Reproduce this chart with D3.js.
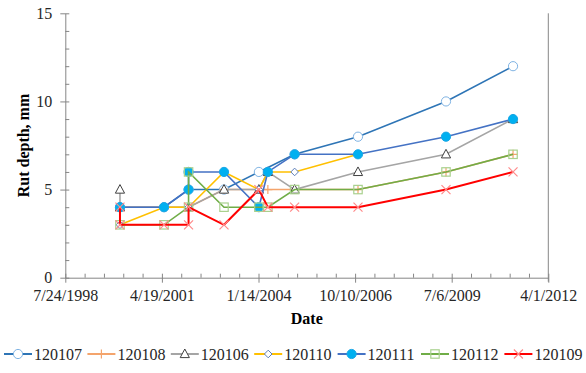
<!DOCTYPE html>
<html>
<head>
<meta charset="utf-8">
<script src="https://cdn.jsdelivr.net/npm/d3@7"></script>
<style>
  body { margin: 0; background: #fff; }
  .axis path, .axis line { stroke: #868686; }
</style>
</head>
<body>
<script>
// survey dates
var surveyDates = ["2000-02-10","2001-05-11","2002-01-20","2003-01-22","2004-01-18",
                   "2004-04-20","2005-01-22","2006-11-09","2009-05-08","2011-04-02"];

// [date index, rut depth mm]
var rut120107 = [[0,4],[1,4],[2,5],[3,5],[4,6],[6,7],[7,8],[8,10],[9,12]];
var rut120108 = [[0,4],[1,4],[2,4],[3,5],[4,5],[5,5],[6,5],[7,5],[8,6],[9,7]];
var rut120106 = [[0,5],[0,4],[2,4],[3,5],[4,5],[5,6],[6,5],[7,6],[8,7],[9,9]];
var rut120110 = [[0,3],[1,4],[2,4],[3,6],[4,5],[5,6],[6,6],[7,7]];
var rut120111 = [[0,4],[1,4],[2,5],[2,6],[3,6],[4,4],[5,6],[6,7],[7,7],[8,8],[9,9]];
var rut120112 = [[0,3],[1,3],[2,4],[2,6],[3,4],[4,4],[5,4],[6,5],[7,5],[8,6],[9,7]];
var rut120109 = [[0,4],[0,3],[1,3],[2,3],[2,4],[3,3],[4,5],[5,4],[6,4],[7,4],[8,5],[9,6]];

var yTicks = [0,5,10,15];

var series = [
  {name:"120107", data:rut120107, line:"#2E75B6", marker:"circle",  mStroke:"#7FB3E3", mFill:"#fff"},
  {name:"120108", data:rut120108, line:"#F4A46C", marker:"plus",    mStroke:"#F4A46C", mFill:"none"},
  {name:"120106", data:rut120106, line:"#A5A5A5", marker:"triangle",mStroke:"#404040", mFill:"#fff"},
  {name:"120110", data:rut120110, line:"#FFC000", marker:"diamond", mStroke:"#5B7DB8", mFill:"#fff"},
  {name:"120111", data:rut120111, line:"#4472C4", marker:"dot",     mStroke:"#19A7E6", mFill:"#00B0F0"},
  {name:"120112", data:rut120112, line:"#70AD47", marker:"square",  mStroke:"#A9D18E", mFill:"none"},
  {name:"120109", data:rut120109, line:"#FF0000", marker:"cross",   mStroke:"#FF8A8A", mFill:"none"}
];

var FONT = "'Liberation Serif', 'Times New Roman', Times, serif";
var W = 586, H = 373;
var margin = {top: 13.3, right: 37.7, bottom: 95.3, left: 65.3};
var width = W - margin.left - margin.right,
    height = H - margin.top - margin.bottom;

var parse = d3.timeParse("%Y-%m-%d");
var dates = surveyDates.map(parse);
var start = new Date(1998, 6, 24), end = new Date(2012, 3, 1);

var svg = d3.select("body").append("svg")
    .attr("width", W)
    .attr("height", H);
var g = svg.append("g")
    .attr("transform", "translate(" + margin.left + "," + margin.top + ")");

var x = d3.scaleTime().domain([start, end]).range([0, width]);
var y = d3.scaleLinear().domain([0, 15]).range([height, 0]);

var majorX = d3.range(0, 6).map(i => d3.timeDay.offset(start, i * 1000));
var minorX = d3.range(0, 26).filter(i => i % 5).map(i => d3.timeDay.offset(start, i * 200));

// minor ticks (inside)
g.append("g").attr("class","axis")
  .attr("transform","translate(0," + height + ")")
  .call(d3.axisBottom(x).tickValues(minorX).tickSize(-4).tickFormat(""))
  .call(a => a.select(".domain").remove());
g.append("g").attr("class","axis")
  .call(d3.axisLeft(y).tickValues(d3.range(0,16).filter(v => v % 5)).tickSize(-4).tickFormat(""))
  .call(a => a.select(".domain").remove());

// major axes
var xAxis = g.append("g").attr("class","axis")
  .attr("transform","translate(0," + height + ")")
  .call(d3.axisBottom(x).tickValues(majorX).tickSize(5).tickSizeOuter(0).tickPadding(7)
        .tickFormat(d3.timeFormat("%-m/%-d/%Y")));
xAxis.selectAll(".tick line").attr("y1", -4);

var yAxis = g.append("g").attr("class","axis")
  .call(d3.axisLeft(y).tickValues(yTicks).tickSize(5).tickSizeOuter(0).tickPadding(8));
yAxis.selectAll(".tick line").attr("x1", 4);

g.selectAll(".axis").attr("font-family", FONT).attr("font-size", 16);
g.selectAll(".axis text").style("font-family", FONT).style("font-size", "16px").attr("fill", "#262626");

// right border
g.append("line").attr("x1", width).attr("x2", width).attr("y1", 0).attr("y2", height + 4)
  .attr("stroke", "#868686");

// axis titles
svg.append("text")
  .attr("x", margin.left + width / 2).attr("y", 324)
  .attr("text-anchor","middle")
  .style("font-family", FONT).style("font-weight","bold").style("font-size","16px")
  .text("Date");
svg.append("text")
  .attr("transform","translate(29," + (margin.top + height / 2) + ") rotate(-90)")
  .attr("text-anchor","middle")
  .style("font-family", FONT).style("font-weight","bold").style("font-size","16px")
  .text("Rut depth, mm");

function drawMarker(sel, type, s) {
  if (type === "circle" || type === "dot") {
    sel.append("circle").attr("r", 4.6).attr("fill", s.mFill).attr("stroke", s.mStroke).attr("stroke-width", 1);
  } else if (type === "plus") {
    sel.append("path").attr("d","M-4.5,0H4.5M0,-4.5V4.5").attr("stroke", s.mStroke).attr("stroke-width", 1.2);
  } else if (type === "triangle") {
    sel.append("path").attr("d","M0,-5L4.6,3.6H-4.6Z").attr("fill", s.mFill).attr("stroke", s.mStroke).attr("stroke-width", 1);
  } else if (type === "diamond") {
    sel.append("path").attr("d","M0,-3.8L3.8,0L0,3.8L-3.8,0Z").attr("fill", s.mFill).attr("stroke", s.mStroke).attr("stroke-width", 1);
  } else if (type === "square") {
    sel.append("rect").attr("x",-4.2).attr("y",-4.2).attr("width",8.4).attr("height",8.4)
      .attr("fill", s.mFill).attr("stroke", s.mStroke).attr("stroke-width", 1.2);
  } else if (type === "cross") {
    sel.append("path").attr("d","M-4.5,-4.5L4.5,4.5M-4.5,4.5L4.5,-4.5").attr("stroke", s.mStroke).attr("stroke-width", 1.2);
  }
}

var line = d3.line().x(d => x(dates[d[0]])).y(d => y(d[1]));

series.forEach(function(s) {
  var sg = g.append("g");
  sg.append("path").datum(s.data)
    .attr("d", line)
    .attr("fill","none")
    .attr("stroke", s.line)
    .attr("stroke-width", s.name === "120109" ? 2 : 1.6);
  sg.selectAll(".m").data(s.data).join("g")
    .attr("transform", d => "translate(" + x(dates[d[0]]) + "," + y(d[1]) + ")")
    .each(function() { drawMarker(d3.select(this), s.marker, s); });
});

// legend
var legend = svg.append("g").attr("transform","translate(4,354)");
var item = legend.selectAll("g").data(series).join("g")
  .attr("transform", (d, i) => "translate(" + (i * 83.4) + ",0)");
item.append("line").attr("x1",0).attr("x2",28).attr("stroke", d => d.line).attr("stroke-width", 2);
item.each(function(d) {
  var m = d3.select(this).append("g").attr("transform","translate(14,0)");
  drawMarker(m, d.marker, d);
});
item.append("text").attr("x", 30).attr("y", 5.5)
  .style("font-family", FONT).style("font-size","16px").attr("fill","#262626")
  .text(d => d.name);
</script>
</body>
</html>
